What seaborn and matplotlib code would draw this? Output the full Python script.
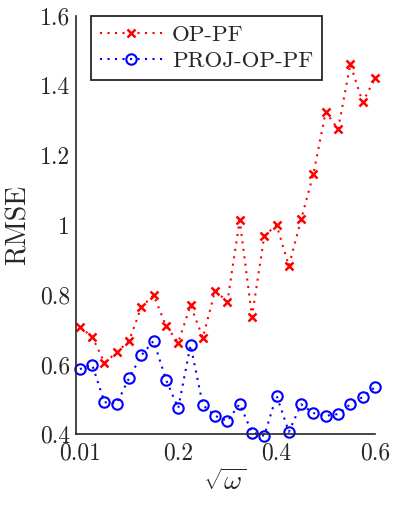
import numpy as np
import pandas as pd
import matplotlib
matplotlib.use("Agg")
import matplotlib.pyplot as plt
import seaborn as sns

# sqrt(omega) grid (25 points, first tick labelled 0.01)
sqrt_omega = [0.0, 0.025, 0.05, 0.075, 0.1, 0.125, 0.15, 0.175, 0.2, 0.225,
              0.25, 0.275, 0.3, 0.325, 0.35, 0.375, 0.4, 0.425, 0.45, 0.475,
              0.5, 0.525, 0.55, 0.575, 0.6]
rmse_op_pf = [0.707, 0.680, 0.605, 0.635, 0.668, 0.765, 0.799, 0.711, 0.663, 0.770,
              0.677, 0.812, 0.780, 1.014, 0.737, 0.969, 1.000, 0.883, 1.016, 1.147,
              1.325, 1.274, 1.461, 1.352, 1.420]
rmse_proj = [0.587, 0.599, 0.492, 0.488, 0.561, 0.626, 0.668, 0.557, 0.475, 0.656,
             0.484, 0.453, 0.438, 0.487, 0.405, 0.396, 0.511, 0.407, 0.486, 0.461,
             0.453, 0.458, 0.486, 0.507, 0.535]
xticks = [0.0, 0.2, 0.4, 0.6]
xtick_labels = ["0.01", "0.2", "0.4", "0.6"]
yticks = [0.4, 0.6, 0.8, 1.0, 1.2, 1.4, 1.6]
ytick_labels = ["0.4", "0.6", "0.8", "1", "1.2", "1.4", "1.6"]

sns.set_style("white")
plt.rcParams['font.family'] = 'serif'
plt.rcParams['font.serif'] = ['cmr10']
plt.rcParams['mathtext.fontset'] = 'cm'
plt.rcParams['axes.unicode_minus'] = False

df = pd.DataFrame({"x": sqrt_omega, "op": rmse_op_pf, "proj": rmse_proj})

fig = plt.figure(figsize=(3.98, 5.15), dpi=100)
ax = fig.add_axes([0.190, 0.1567, 0.752, 0.8128])

dots = (0, (1, 2.6))
red = (1, 0, 0)
blue = (0, 0, 1)

sns.lineplot(data=df, x="x", y="op", ax=ax, color=red, linestyle=dots,
             linewidth=1.5, marker="x", markersize=6, markeredgewidth=1.8,
             markeredgecolor=red, label="OP-PF", clip_on=False)
sns.lineplot(data=df, x="x", y="proj", ax=ax, color=blue, linestyle=dots,
             linewidth=1.5, marker="o", markersize=7.5, markeredgewidth=1.5,
             markerfacecolor="none", markeredgecolor=blue,
             label="PROJ-OP-PF", clip_on=False)

ax.set_xlim(-0.0087, 0.6)
ax.set_ylim(0.4, 1.6)
ax.set_xticks(xticks)
ax.set_xticklabels(xtick_labels)
ax.set_yticks(yticks)
ax.set_yticklabels(ytick_labels)
ax.tick_params(direction="in", length=5, width=1, colors="#262626",
               labelsize=17, labelcolor="#262626", pad=4)
ax.tick_params(axis="x", pad=6)
for lbl in ax.get_yticklabels():
    lbl.set_va("center_baseline")

for s in ["top", "right"]:
    ax.spines[s].set_visible(False)
for s in ["left", "bottom"]:
    ax.spines[s].set_color("#262626")
    ax.spines[s].set_linewidth(1.2)

ax.set_xlabel(r"$\sqrt{\omega}$", fontsize=20, color="#262626", labelpad=3)
ax.set_ylabel("RMSE", fontsize=20, color="#262626", labelpad=6)

leg = ax.legend(loc="upper left", bbox_to_anchor=(0.05, 1.0), fontsize=16.5,
                frameon=True, fancybox=False, framealpha=1, borderpad=0.4,
                handlelength=2.75, handletextpad=0.4, labelspacing=0.25,
                borderaxespad=0)
leg.get_frame().set_edgecolor("#262626")
leg.get_frame().set_linewidth(1.3)

fig.savefig("out.png", dpi=100)
